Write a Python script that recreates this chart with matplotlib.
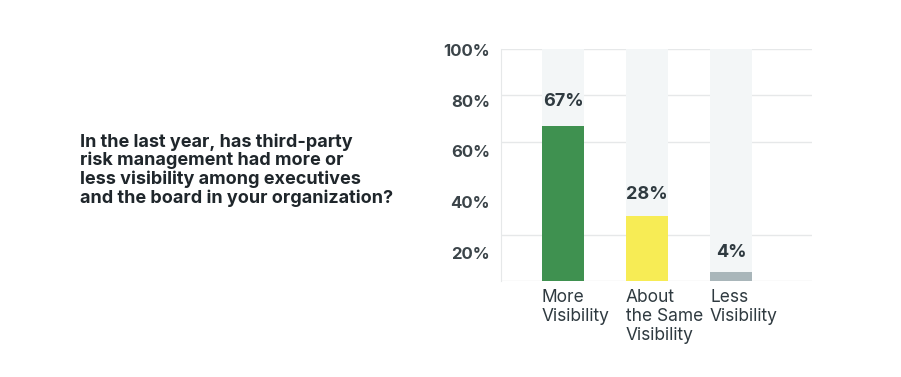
import numpy as np
import matplotlib
matplotlib.use('Agg')
import matplotlib.pyplot as plt

categories = ['More\nVisibility', 'About\nthe Same\nVisibility', 'Less\nVisibility']
values = [67, 28, 4]
value_labels = ['67%', '28%', '4%']
bar_colors = ['#3f9150', '#f7ec55', '#a9b6ba']
tick_values = [20, 40, 60, 80, 100]
grid_values = [0, 20, 60, 80, 100]
title = ('In the last year, has third-party\nrisk management had more or\n'
         'less visibility among executives\nand the board in your organization?')

text_color = '#2f3a40'
plt.rcParams['font.family'] = ['Inter', 'DejaVu Sans']

fig = plt.figure(figsize=(9.01, 3.77), dpi=100)
ax = fig.add_axes([501 / 901, 1 - 281 / 377, 311 / 901, 232 / 377])

x = np.arange(len(values))
ax.bar(x, [100] * len(values), width=0.5, color='#f3f6f7', zorder=1)
ax.bar(x, values, width=0.5, color=bar_colors, zorder=2)
for yv in grid_values:
    ax.axhline(yv, color='#e6e8e9', lw=1, zorder=0)

offsets = [6.8, 5.8, 4.5]
for xi, v, lab, off in zip(x, values, value_labels, offsets):
    ax.text(xi, v + off, lab, ha='center', va='bottom', fontsize=13,
            fontweight='bold', color=text_color, zorder=3)

ax.set_xlim(-0.738, 2.964)
ax.set_ylim(0, 100)
ax.set_xticks([])
ax.set_yticks([])
for s in ['top', 'right', 'bottom']:
    ax.spines[s].set_visible(False)
ax.spines['left'].set_color('#e6e8e9')

# category labels, left aligned with the bars
for xi, c in zip(x, categories):
    ax.text(xi - 0.25, -3.6, c, ha='left', va='top', fontsize=12.5,
            color=text_color, linespacing=1.13, transform=ax.transData)

# tick labels sit on their own scale in the original design
ax2 = ax.twinx()
ax2.set_ylim(8.97, 100.39)
ax2.yaxis.set_ticks_position('left')
ax2.set_yticks(tick_values)
ax2.set_yticklabels(['{}%'.format(t) for t in tick_values], fontsize=12,
                    fontweight='bold', color='#3b4449')
ax2.tick_params(axis='y', length=0, pad=8)
for s in ax2.spines.values():
    s.set_visible(False)

fig.text(80 / 901, 1 - 170 / 377, title, ha='left', va='center', fontsize=13,
         fontweight='bold', color='#1f262b', linespacing=1.08)

fig.savefig('out.png', dpi=100)
